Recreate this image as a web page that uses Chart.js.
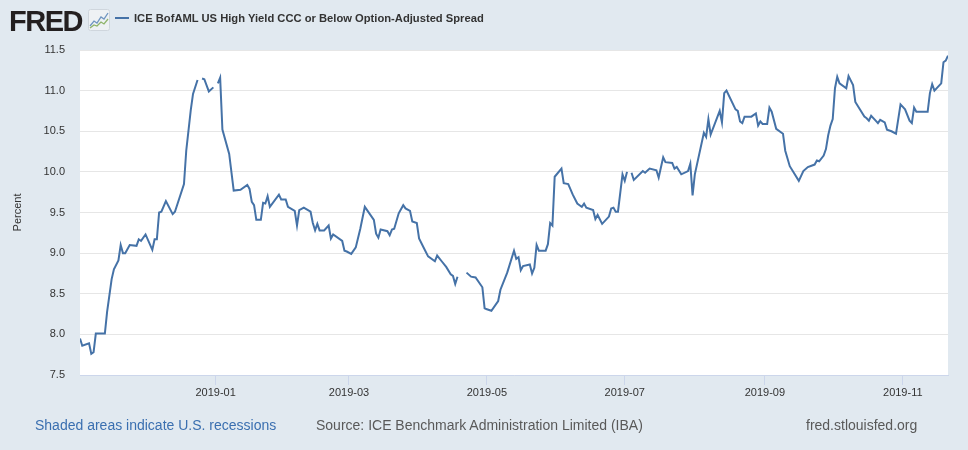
<!DOCTYPE html>
<html>
<head>
<meta charset="utf-8">
<script src="https://cdn.jsdelivr.net/npm/chart.js@4.4.0/dist/chart.umd.min.js"></script>
<style>
  body { margin: 0; background: #e1e9f0; font-family: 'Liberation Sans', Arial, sans-serif; }
  #wrap { position: relative; width: 968px; height: 450px; overflow: hidden; }
  #chart { position: absolute; left: 0; top: 0; }
  .abs { position: absolute; white-space: nowrap; }
  #logo { left: 9px; top: 5px; font-size: 29px; font-weight: bold; letter-spacing: -1.5px; color: #231f20; }
  #icon { left: 88px; top: 9px; }
  #legend { left: 115px; top: 12px; font-size: 11.2px; font-weight: bold; color: #333; }
  #legend span { display: inline-block; width: 14px; height: 2px; background: #4572a7; vertical-align: middle; margin-right: 5px; position: relative; top: -1px; }
  .foot { top: 417px; font-size: 14px; color: #595959; }
</style>
</head>
<body>
<div id="wrap">
  <canvas id="chart" width="968" height="450"></canvas>
  <div id="logo" class="abs">FRED</div>
  <svg id="icon" class="abs" width="22" height="22" viewBox="0 0 22 22">
    <rect x="0.5" y="0.5" width="21" height="21" rx="2" fill="#eef1f4" stroke="#cfd6dd"/>
    <polyline points="2,17 6,12 9,14 13,8 16,10 20,4" fill="none" stroke="#6f95c0" stroke-width="1.3"/>
    <polyline points="2,19 6,16 9,17 13,13 16,15 20,10" fill="none" stroke="#8fb46a" stroke-width="1.3"/>
  </svg>
  <div id="legend" class="abs"><span></span>ICE BofAML US High Yield CCC or Below Option-Adjusted Spread</div>
  <div class="abs foot" style="left:35px;color:#3a6fb0">Shaded areas indicate U.S. recessions</div>
  <div class="abs foot" style="left:316px">Source: ICE Benchmark Administration Limited (IBA)</div>
  <div class="abs foot" style="left:806px">fred.stlouisfed.org</div>
</div>
<script>
const dates = [
  '2018-11-02','2018-11-03','2018-11-06','2018-11-07','2018-11-08','2018-11-09','2018-11-13','2018-11-14',
  '2018-11-15','2018-11-16','2018-11-17','2018-11-19','2018-11-20','2018-11-21','2018-11-22','2018-11-24',
  '2018-11-27','2018-11-28','2018-11-29','2018-12-01','2018-12-04','2018-12-05','2018-12-06','2018-12-07',
  '2018-12-08','2018-12-10','2018-12-13','2018-12-14','2018-12-18','2018-12-19','2018-12-21','2018-12-22',
  '2018-12-24','2018-12-25','2018-12-26','2018-12-27','2018-12-29','2018-12-31','2019-01-01','2019-01-02',
  '2019-01-03','2019-01-04','2019-01-07','2019-01-09','2019-01-12','2019-01-15','2019-01-16','2019-01-17',
  '2019-01-18','2019-01-19','2019-01-21','2019-01-22','2019-01-23','2019-01-24','2019-01-25','2019-01-29',
  '2019-01-30','2019-02-01','2019-02-02','2019-02-05','2019-02-06','2019-02-07','2019-02-09','2019-02-12',
  '2019-02-13','2019-02-14','2019-02-15','2019-02-16','2019-02-18','2019-02-20','2019-02-21','2019-02-22',
  '2019-02-26','2019-02-27','2019-02-28','2019-03-02','2019-03-04','2019-03-06','2019-03-08','2019-03-10',
  '2019-03-12','2019-03-13','2019-03-14','2019-03-15','2019-03-18','2019-03-19','2019-03-20','2019-03-21',
  '2019-03-23','2019-03-25','2019-03-26','2019-03-28','2019-03-29','2019-03-31','2019-04-01','2019-04-03',
  '2019-04-05','2019-04-08','2019-04-09','2019-04-11','2019-04-13','2019-04-15','2019-04-16','2019-04-17',
  '2019-04-18','2019-04-19','2019-04-22','2019-04-24','2019-04-26','2019-04-29','2019-04-30','2019-05-01',
  '2019-05-03','2019-05-06','2019-05-07','2019-05-10','2019-05-13','2019-05-14','2019-05-15','2019-05-16',
  '2019-05-17','2019-05-20','2019-05-21','2019-05-22','2019-05-23','2019-05-24','2019-05-27','2019-05-28',
  '2019-05-29','2019-05-30','2019-05-31','2019-06-03','2019-06-04','2019-06-06','2019-06-08','2019-06-10',
  '2019-06-11','2019-06-12','2019-06-13','2019-06-14','2019-06-17','2019-06-18','2019-06-19','2019-06-21',
  '2019-06-24','2019-06-25','2019-06-26','2019-06-27','2019-06-28','2019-06-30','2019-07-01','2019-07-02',
  '2019-07-03','2019-07-04','2019-07-05','2019-07-09','2019-07-10','2019-07-12','2019-07-15','2019-07-16',
  '2019-07-18','2019-07-19','2019-07-22','2019-07-23','2019-07-24','2019-07-26','2019-07-29','2019-07-30',
  '2019-07-31','2019-08-01','2019-08-05','2019-08-06','2019-08-07','2019-08-08','2019-08-12','2019-08-13',
  '2019-08-14','2019-08-15','2019-08-19','2019-08-20','2019-08-21','2019-08-22','2019-08-23','2019-08-26',
  '2019-08-28','2019-08-29','2019-08-30','2019-08-31','2019-09-02','2019-09-03','2019-09-04','2019-09-06',
  '2019-09-09','2019-09-10','2019-09-12','2019-09-16','2019-09-18','2019-09-20','2019-09-23','2019-09-24',
  '2019-09-25','2019-09-27','2019-09-28','2019-09-29','2019-09-30','2019-10-01','2019-10-02','2019-10-03',
  '2019-10-04','2019-10-07','2019-10-08','2019-10-10','2019-10-11','2019-10-13','2019-10-15','2019-10-16',
  '2019-10-17','2019-10-18','2019-10-20','2019-10-21','2019-10-22','2019-10-24','2019-10-25','2019-10-27',
  '2019-10-29','2019-10-31','2019-11-02','2019-11-04','2019-11-05','2019-11-06','2019-11-07','2019-11-12',
  '2019-11-13','2019-11-14','2019-11-15','2019-11-18','2019-11-19','2019-11-20','2019-11-21'
];
const spread = [
  7.95, 7.86, 7.89, 7.76, 7.78, 8.01, 8.01, 8.28,
  8.48, 8.68, 8.80, 8.91, 9.10, 9.00, 9.00, 9.10,
  9.09, 9.17, 9.15, 9.23, 9.04, 9.17, 9.17, 9.50,
  9.51, 9.64, 9.48, 9.51, 9.85, 10.26, 10.76, 10.96,
  11.13, null, 11.15, 11.14, 10.99, 11.04, null, 11.09,
  11.16, 10.52, 10.22, 9.77, 9.78, 9.84, 9.79, 9.63,
  9.59, 9.41, 9.41, 9.62, 9.61, 9.70, 9.57, 9.72,
  9.66, 9.66, 9.57, 9.52, 9.34, 9.53, 9.56, 9.51,
  9.37, 9.28, 9.36, 9.28, 9.28, 9.34, 9.18, 9.23,
  9.15, 9.03, 9.02, 8.99, 9.07, 9.30, 9.57, 9.49,
  9.41, 9.24, 9.19, 9.29, 9.27, 9.22, 9.29, 9.30,
  9.49, 9.59, 9.55, 9.52, 9.39, 9.37, 9.18, 9.07,
  8.96, 8.90, 8.97, 8.90, 8.83, 8.74, 8.72, 8.62,
  8.71, null, 8.76, 8.71, 8.70, 8.58, 8.32, 8.31,
  8.29, 8.41, 8.55, 8.76, 9.03, 8.93, 8.95, 8.79,
  8.84, 8.86, 8.75, 8.82, 9.10, 9.03, 9.03, 9.11,
  9.37, 9.34, 9.94, 10.04, 9.86, 9.85, 9.72, 9.61,
  9.59, 9.57, 9.61, 9.56, 9.53, 9.42, 9.47, 9.36,
  9.45, 9.55, 9.56, 9.51, 9.51, 9.97, 9.89, 10.00,
  null, 9.99, 9.90, 10.01, 9.99, 10.04, 10.02, 9.93,
  10.18, 10.12, 10.11, 10.04, 10.06, 9.97, 10.01, 10.10,
  9.71, 9.97, 10.48, 10.43, 10.65, 10.46, 10.75, 10.61,
  10.97, 11.00, 10.77, 10.75, 10.62, 10.60, 10.68, 10.68,
  10.72, 10.57, 10.62, 10.59, 10.59, 10.79, 10.74, 10.53,
  10.47, 10.26, 10.07, 9.89, 10.01, 10.06, 10.09, 10.14,
  10.13, 10.20, 10.28, 10.45, 10.57, 10.65, 11.03, 11.17,
  11.09, 11.03, 11.18, 11.07, 10.86, 10.77, 10.68, 10.66,
  10.63, 10.69, 10.63, 10.60, 10.64, 10.61, 10.52, 10.50,
  10.47, 10.83, 10.77, 10.63, 10.60, 10.79, 10.74, 10.74,
  10.97, 11.08, 11.00, 11.09, 11.35, 11.37, 11.43
];
const tickMonths = ['2019-01', '2019-03', '2019-05', '2019-07', '2019-09', '2019-11'];
const yMin = 7.5, yMax = 11.5, yStep = 0.5;

const points = dates.map((d, i) => ({ x: Date.parse(d), y: spread[i] }));

const plotBg = {
  id: 'plotBg',
  beforeDraw(chart) {
    const { ctx, chartArea: a } = chart;
    ctx.save();
    ctx.fillStyle = '#ffffff';
    ctx.fillRect(a.left, a.top, a.right - a.left, a.bottom - a.top);
    ctx.restore();
  }
};

const ctx = document.getElementById('chart').getContext('2d');
new Chart(ctx, {
  type: 'line',
  data: {
    datasets: [{
      label: 'ICE BofAML US High Yield CCC or Below Option-Adjusted Spread',
      data: points,
      borderColor: '#4572a7',
      borderWidth: 2,
      pointRadius: 0,
      tension: 0,
      fill: false,
      spanGaps: false
    }]
  },
  options: {
    responsive: false,
    animation: false,
    layout: { padding: { left: 0, top: 50, right: 20, bottom: 45 } },
    plugins: { legend: { display: false }, tooltip: { enabled: false } },
    scales: {
      x: {
        type: 'linear',
        min: Date.parse(dates[0]),
        max: Date.parse(dates[dates.length - 1]),
        afterBuildTicks: s => { s.ticks = tickMonths.map(m => ({ value: Date.parse(m + '-01') })); },
        afterFit: s => { s.height = 30; },
        ticks: {
          autoSkip: false, maxRotation: 0, padding: 1,
          color: '#333', font: { size: 11, family: "'Liberation Sans', Arial, sans-serif" },
          callback: v => tickMonths.find(m => Date.parse(m + '-01') === v) || ''
        },
        grid: { drawOnChartArea: false, color: '#ccd6eb', tickLength: 10 },
        border: { display: true, color: '#ccd6eb' }
      },
      y: {
        min: yMin, max: yMax,
        afterFit: s => { s.width = 80; },
        ticks: {
          stepSize: yStep, padding: 15,
          color: '#333', font: { size: 11, family: "'Liberation Sans', Arial, sans-serif" },
          callback: v => v.toFixed(1)
        },
        grid: { color: '#e6e6e6', drawTicks: false },
        border: { display: false },
        title: {
          display: true, text: 'Percent', color: '#333',
          font: { size: 11, family: "'Liberation Sans', Arial, sans-serif" },
          padding: { top: 11, bottom: 0 }
        }
      }
    }
  },
  plugins: [plotBg]
});
</script>
</body>
</html>
